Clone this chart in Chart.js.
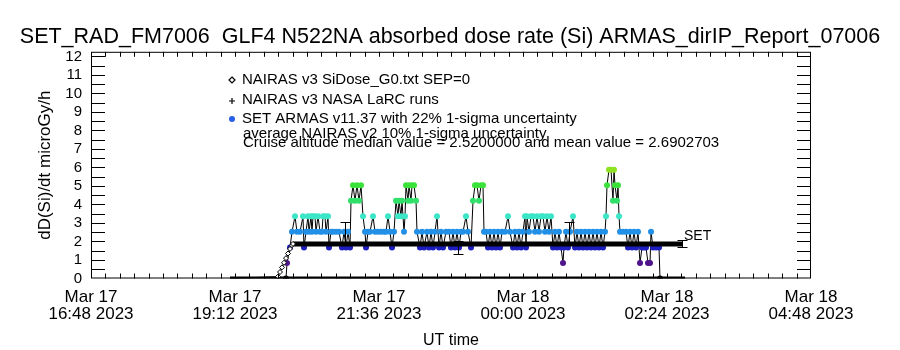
<!DOCTYPE html>
<html>
<head>
<meta charset="utf-8">
<script src="https://cdn.jsdelivr.net/npm/chart.js@4.4.1/dist/chart.umd.min.js"></script>
<style>
  html, body { margin: 0; padding: 0; background: #fff; }
</style>
</head>
<body>
<canvas id="doseChart" width="900" height="350"></canvas>
<script>
// time axis: minutes after Mar 17 16:48 UT
var tickMinutes = [0, 144, 288, 432, 576, 720];
var tickLabels = [
    ['Mar 17', '16:48 2023'],
    ['Mar 17', '19:12 2023'],
    ['Mar 17', '21:36 2023'],
    ['Mar 18', '00:00 2023'],
    ['Mar 18', '02:24 2023'],
    ['Mar 18', '04:48 2023']
];

// NAIRAS v3 SiDose_G0 (diamonds)
var nairasMin  = [139, 187, 189, 191, 193, 195, 197, 199, 201, 202, 592];
var nairasDose = [0, 0.1, 0.35, 0.6, 0.85, 1.1, 1.35, 1.6, 1.8, 1.87, 1.87];

// NAIRAS v3 NASA LaRC runs (plus)
var larcMin  = [139, 594];
var larcDose = [0, 0];

// SET ARMAS v11.37
var armasMin = [
    195, 196, 199, 201, 204, 206, 209, 212, 213, 215,
    217, 218, 220, 221, 222, 224, 225, 227, 229, 231,
    232, 234, 235, 237, 238, 240, 242, 245, 248, 251,
    253, 255, 257, 259, 260, 262, 264, 266, 268, 270,
    272, 274, 275, 277, 279, 282, 284, 287, 290, 293,
    295, 297, 299, 301, 303, 305, 307, 308, 310, 311,
    313, 314, 315, 317, 318, 320, 321, 323, 325, 326,
    329, 331, 333, 336, 338, 340, 342, 344, 346, 348,
    350, 352, 355, 358, 360, 362, 364, 366, 368, 370,
    372, 375, 377, 380, 382, 384, 386, 388, 390, 392,
    393, 395, 397, 399, 401, 403, 405, 407, 409, 411,
    414, 417, 419, 422, 424, 426, 428, 430, 432, 434,
    435, 436, 438, 440, 442, 444, 446, 448, 450, 452,
    454, 456, 458, 460, 462, 464, 466, 468, 470, 472,
    473, 475, 477, 479, 482, 484, 486, 488, 490, 492,
    494, 496, 498, 500, 502, 504, 506, 508, 510, 512,
    514, 515, 516, 518, 520, 522, 523, 524, 526, 527,
    528, 529, 532, 535, 537, 539, 541, 543, 545, 547,
    549, 551, 553, 555, 557, 559, 560, 562, 565, 568,
    569
];
var armasDose = [
    0, 0.84, 1.68, 2.52, 3.36, 2.52, 2.52, 3.36, 1.68, 2.52,
    3.36, 2.52, 3.36, 2.52, 3.36, 3.36, 2.52, 3.36, 2.52, 2.52,
    3.36, 3.36, 2.52, 3.36, 1.68, 2.52, 2.52, 2.52, 2.52, 1.68,
    2.52, 1.68, 2.52, 1.68, 4.2, 5.04, 4.2, 5.04, 4.2, 5.04,
    3.36, 2.52, 1.68, 2.52, 2.52, 3.36, 2.52, 2.52, 2.52, 2.52,
    2.52, 3.36, 2.52, 1.68, 2.52, 4.2, 3.36, 4.2, 3.36, 4.2,
    2.52, 3.36, 5.04, 4.2, 5.04, 4.2, 5.04, 5.04, 4.2, 2.52,
    1.68, 2.52, 1.68, 2.52, 1.68, 2.52, 1.68, 2.52, 3.36, 1.68,
    2.52, 1.68, 2.52, 2.52, 1.68, 2.52, 1.68, 2.52, 1.68, 2.52,
    2.52, 3.36, 2.52, 1.68, 4.2, 5.04, 5.04, 4.2, 5.04, 5.04,
    2.52, 2.52, 1.68, 2.52, 1.68, 2.52, 1.68, 2.52, 1.68, 2.52,
    2.52, 3.36, 2.52, 1.68, 2.52, 1.68, 2.52, 1.68, 2.52, 3.36,
    1.68, 3.36, 2.52, 3.36, 3.36, 2.52, 3.36, 2.52, 3.36, 3.36,
    2.52, 3.36, 2.52, 3.36, 1.68, 2.52, 1.68, 2.52, 1.68, 0.84,
    1.68, 2.52, 1.68, 2.52, 3.36, 1.68, 2.52, 1.68, 2.52, 1.68,
    2.52, 1.68, 2.52, 1.68, 2.52, 1.68, 2.52, 1.68, 2.52, 1.68,
    2.52, 3.36, 5.04, 5.88, 5.88, 4.2, 5.88, 5.04, 4.2, 5.04,
    3.36, 2.52, 2.52, 2.52, 1.68, 2.52, 1.68, 2.52, 1.68, 2.52,
    0.84, 1.68, 1.68, 1.68, 0.84, 0.84, 2.52, 1.68, 1.68, 1.68,
    0
];

// error bars (average NAIRAS / SET uncertainty)
var errMin   = [254, 367, 478, 591];
var errDose  = [2.52, 1.68, 2.52, 1.87];
var errSigma = [0.55, 0.37, 0.55, 0.19];

var titleText = 'SET_RAD_FM7006  GLF4 N522NA absorbed dose rate (Si) ARMAS_dirIP_Report_07006';
var legendLines = [
    'NAIRAS v3 SiDose_G0.txt SEP=0',
    'NAIRAS v3 NASA LaRC runs',
    'SET ARMAS v11.37 with 22% 1-sigma uncertainty',
    'average NAIRAS v2 10% 1-sigma uncertainty',
    'Cruise altitude median value = 2.5200000 and mean value = 2.6902703'
];

// colour table for the ARMAS dose levels
function doseColor(v) {
    if (v < 0.5) return '#000000';
    if (v < 1.2) return '#4f138c';
    if (v < 2.0) return '#1e1ec0';
    if (v < 2.9) return '#2290e6';
    if (v < 3.8) return '#3ae6c6';
    if (v < 4.6) return '#30e068';
    if (v < 5.4) return '#3ae23a';
    return '#8ee222';
}

function pairs(xs, ys) {
    return xs.map(function(t, i) { return {x: t, y: ys[i]}; });
}

Chart.defaults.font.family = '"Liberation Sans", Arial, sans-serif';
Chart.defaults.color = '#000';

var frameTicks = {
    id: 'frameTicks',
    afterDatasetsDraw: function(chart) {
        var c = chart.ctx, a = chart.chartArea, x = chart.scales.x, y = chart.scales.y;
        c.save();
        c.strokeStyle = '#000';
        c.lineWidth = 1;
        c.strokeRect(a.left + 0.5, a.top + 0.5, a.right - a.left - 1, a.bottom - a.top - 1);
        c.beginPath();
        for (var v = 0.5; v < 12.2; v += 0.5) {
            var py = Math.round(y.getPixelForValue(v)) + 0.5;
            c.moveTo(a.left, py); c.lineTo(a.left + 14, py);
            c.moveTo(a.right, py); c.lineTo(a.right - 14, py);
        }
        for (var m = 14.4; m < 719; m += 14.4) {
            var px = Math.round(x.getPixelForValue(m)) + 0.5;
            c.moveTo(px, a.top); c.lineTo(px, a.top + 5);
            c.moveTo(px, a.bottom); c.lineTo(px, a.bottom - 5);
        }
        c.stroke();

        // error bars
        c.beginPath();
        errMin.forEach(function(t, i) {
            var px = Math.round(x.getPixelForValue(t)) + 0.5;
            var top = Math.round(y.getPixelForValue(errDose[i] + errSigma[i])) + 0.5;
            var bot = Math.round(y.getPixelForValue(errDose[i] - errSigma[i])) + 0.5;
            c.moveTo(px, top); c.lineTo(px, bot);
            c.moveTo(px - 5, top); c.lineTo(px + 5, top);
            c.moveTo(px - 5, bot); c.lineTo(px + 5, bot);
        });
        c.stroke();

        // SET label at end of the NAIRAS line
        var n = nairasMin.length - 1;
        c.font = '14px "Liberation Sans", Arial, sans-serif';
        c.fillStyle = '#000';
        c.textBaseline = 'middle';
        c.fillText('SET', x.getPixelForValue(nairasMin[n]) + 1, y.getPixelForValue(nairasDose[n]) - 8);
        c.restore();
    }
};

var legendNotes = {
    id: 'legendNotes',
    afterDraw: function(chart) {
        var c = chart.ctx;
        c.save();
        c.font = '15px "Liberation Sans", Arial, sans-serif';
        c.fillStyle = '#000';
        c.textBaseline = 'middle';
        var rowsY = [80, 100, 119, 134, 143];
        var textX = 242;
        // diamond
        c.strokeStyle = '#000';
        c.lineWidth = 1.2;
        c.beginPath();
        c.moveTo(232, rowsY[0] - 3); c.lineTo(235, rowsY[0]); c.lineTo(232, rowsY[0] + 3); c.lineTo(229, rowsY[0]);
        c.closePath(); c.stroke();
        // plus
        c.beginPath();
        c.moveTo(229, rowsY[1] + 1); c.lineTo(235, rowsY[1] + 1);
        c.moveTo(232, rowsY[1] - 2); c.lineTo(232, rowsY[1] + 4);
        c.stroke();
        // filled dot
        c.fillStyle = '#2a5ee8';
        c.beginPath(); c.arc(232, rowsY[2], 3, 0, Math.PI * 2); c.fill();
        c.fillStyle = '#000';
        legendLines.forEach(function(s, i) {
            c.fillText(s, i >= 3 ? textX + 1 : textX, rowsY[i]);
        });
        c.restore();
    }
};

var ctx = document.getElementById('doseChart').getContext('2d');
var doseChart = new Chart(ctx, {
    type: 'line',
    data: {
        datasets: [{
            label: legendLines[0],
            data: pairs(nairasMin, nairasDose),
            borderColor: '#000',
            backgroundColor: '#fff',
            segment: {
                borderWidth: function(s) { return s.p0.parsed.y === s.p1.parsed.y ? 5 : 1; }
            },
            pointStyle: 'rectRot',
            pointRadius: [0, 2.5, 2.5, 2.5, 2.5, 2.5, 2.5, 2.5, 2.5, 2.5, 0],
            pointBorderColor: '#000',
            pointBackgroundColor: '#fff',
            pointBorderWidth: 1,
            order: 0
        }, {
            label: legendLines[1],
            data: pairs(larcMin, larcDose),
            borderColor: '#000',
            borderWidth: 4,
            pointRadius: 0,
            order: 0
        }, {
            label: legendLines[2],
            data: pairs(armasMin, armasDose),
            borderColor: '#000',
            borderWidth: 1,
            pointRadius: 3,
            pointBorderWidth: 0,
            pointBackgroundColor: armasDose.map(doseColor),
            order: 1
        }]
    },
    options: {
        responsive: false,
        animation: false,
        events: [],
        layout: { padding: 0 },
        plugins: {
            legend: { display: false },
            tooltip: { enabled: false },
            title: {
                display: true,
                text: titleText,
                color: '#000',
                font: { size: 21.5, weight: 'normal' },
                padding: { top: 24, bottom: 2 }
            }
        },
        scales: {
            x: {
                type: 'linear',
                min: 0,
                max: 720,
                afterFit: function(s) { s.height = 71.5; },
                afterBuildTicks: function(s) {
                    s.ticks = tickMinutes.map(function(v) { return {value: v}; });
                },
                grid: { display: false, drawTicks: false },
                border: { display: false },
                ticks: {
                    autoSkip: false,
                    maxRotation: 0,
                    padding: 10,
                    font: { size: 17, lineHeight: 1.0 },
                    callback: function(v, i) { return tickLabels[i]; }
                },
                title: {
                    display: true,
                    text: 'UT time',
                    font: { size: 16 },
                    padding: { top: 2, bottom: 0 }
                }
            },
            y: {
                min: 0,
                max: 12.25,
                afterFit: function(s) { s.width = 91; },
                grid: { display: false, drawTicks: false },
                border: { display: false },
                ticks: {
                    stepSize: 1,
                    autoSkip: false,
                    includeBounds: false,
                    padding: 9,
                    font: { size: 15, lineHeight: 1.0 }
                },
                title: {
                    display: true,
                    text: 'dD(Si)/dt microGy/h',
                    font: { size: 17 },
                    padding: { top: 35, bottom: 0 }
                }
            },
            yRight: {
                position: 'right',
                min: 0,
                max: 12.25,
                afterFit: function(s) { s.width = 89; },
                grid: { display: false, drawTicks: false },
                border: { display: false },
                ticks: { display: false }
            }
        }
    },
    plugins: [frameTicks, legendNotes]
});
</script>
</body>
</html>
